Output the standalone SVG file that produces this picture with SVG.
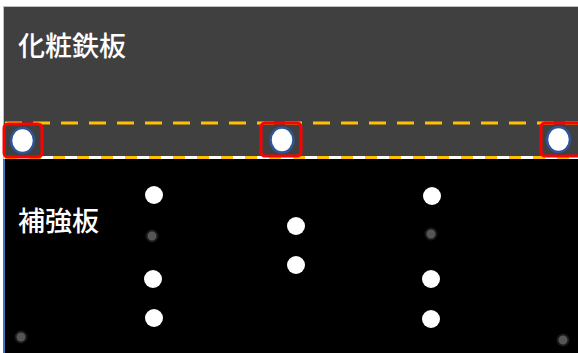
<svg xmlns="http://www.w3.org/2000/svg" width="578" height="353" viewBox="0 0 578 353">
<style>
.lbl{font-family:"Noto Sans CJK JP","Noto Sans",sans-serif;font-size:27px;fill:#ffffff;font-weight:500}
.bolt{fill:#ffffff;stroke:#2F5597;stroke-width:2.5}
.hl{fill:none;stroke:#FF0000;stroke-width:3}
.dot{fill:#ffffff}
.gdot{fill:#555555;stroke:#1a1a1a;stroke-width:2}
.dash{stroke:#FFC000;stroke-width:3;stroke-dasharray:17 11;fill:none}
</style>
<rect x="0" y="0" width="578" height="353" fill="#ffffff"/>
<g id="cosmetic-plate">
<rect x="3.5" y="6.5" width="576" height="152" fill="#404040" stroke="#bfbfbf" stroke-width="1"/>
<text class="lbl" x="18" y="56">化粧鉄板</text>
</g>
<g id="reinforcing-plate">
<rect x="4" y="159" width="574" height="194" fill="#000000"/>
<line x1="4" y1="159" x2="4" y2="353" stroke="#4472C4" stroke-width="2"/>
<text class="lbl" x="18" y="231">補強板</text>
</g>
<g id="connectors">
<line class="dash" x1="5" y1="123" x2="578" y2="123"/>
<line x1="4" y1="157.5" x2="578" y2="157.5" stroke="#ffffff" stroke-width="3"/>
<line class="dash" x1="5" y1="157.5" x2="578" y2="157.5" style="stroke-dasharray:12 12"/>
</g>
<g id="bolt-1">
<ellipse class="bolt" cx="22.5" cy="140.5" rx="11.5" ry="12.5"/>
<rect class="hl" x="4" y="124" width="38" height="33" rx="4"/>
</g>
<g id="bolt-2">
<ellipse class="bolt" cx="282" cy="140" rx="11.5" ry="12.5"/>
<rect class="hl" x="261" y="123" width="40" height="33" rx="4"/>
</g>
<g id="bolt-3">
<ellipse class="bolt" cx="558.5" cy="139.5" rx="11.5" ry="12.5"/>
<rect class="hl" x="541" y="123" width="40" height="33" rx="4"/>
</g>
<g id="holes">
<circle class="dot" cx="154" cy="195" r="9"/>
<circle class="gdot" cx="152" cy="236" r="5.5"/>
<circle class="dot" cx="153" cy="279" r="9"/>
<circle class="dot" cx="154" cy="318" r="9"/>
<circle class="gdot" cx="21" cy="337" r="5.5"/>
<circle class="dot" cx="296" cy="226" r="9"/>
<circle class="dot" cx="296" cy="265" r="9"/>
<circle class="dot" cx="432" cy="196" r="9"/>
<circle class="gdot" cx="431" cy="234" r="5.5"/>
<circle class="dot" cx="431" cy="279" r="9"/>
<circle class="dot" cx="431" cy="319" r="9"/>
<circle class="gdot" cx="563" cy="340" r="5.5"/>
</g>
</svg>
